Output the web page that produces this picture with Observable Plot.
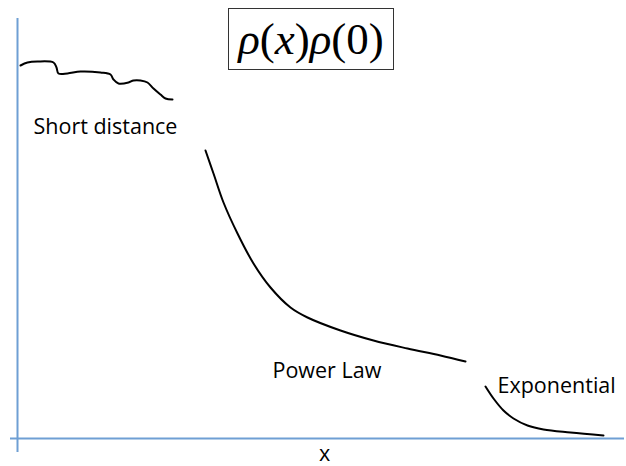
<!DOCTYPE html>
<html>
<head>
<meta charset="utf-8">
<script src="https://cdn.jsdelivr.net/npm/d3@7"></script>
<script src="https://cdn.jsdelivr.net/npm/@observablehq/plot@0.6"></script>
<style>
  html, body { margin: 0; padding: 0; background: #fff; }
  #wrap { position: relative; width: 626px; height: 466px; }
  #title {
    position: absolute; left: 228px; top: 8px; width: 166px; height: 62px;
    border: 1px solid #333; box-sizing: border-box;
    display: flex; align-items: center; justify-content: center;
    font-family: "Liberation Serif", "DejaVu Serif", serif; font-size: 45px; color: #000;
    line-height: 1;
  }
  #title i { font-style: italic; }
</style>
</head>
<body>
<div id="wrap">
  <div id="title"><span><i>ρ</i>(<i>x</i>)<i>ρ</i>(0)</span></div>
</div>
<script>
// Schematic correlation function regions (arbitrary units)
const shortX = [3, 10, 20, 36, 39, 41, 50, 63, 83, 93, 96, 101, 111, 116, 123, 130, 136, 143, 148, 155];
const shortY = [373, 376, 377, 376, 371, 365, 365, 367, 366, 364, 359, 355, 356, 358, 358, 356, 350, 344, 340, 339];

const powerX = [188, 196, 206, 220, 236, 253, 273, 290, 323, 356, 390, 423, 448];
const powerY = [288, 265, 236, 205, 175, 151, 131, 121, 108, 98, 90, 83, 77];

const expX = [468, 476, 486, 496, 510, 526, 553, 586];
const expY = [52, 40, 28, 20, 13, 9, 6, 3];

const labelText = ["Short distance", "Power Law", "Exponential"];
const labelX = [16, 255, 480];
const labelY = [311, 67, 52];

const axisLabel = "x";
const axisLabelX = 307;
const axisLabelY = -16;

const yAxisExtent = [-14, 420];
const xAxisExtent = [-7, 607];

const toPts = (xs, ys) => xs.map((x, i) => ({x, y: ys[i]}));
const shortPts = toPts(shortX, shortY);
const powerPts = toPts(powerX, powerY);
const expPts = toPts(expX, expY);
const labels = labelText.map((t, i) => ({t, x: labelX[i], y: labelY[i]}));

const axisColor = "#6f9fd4";
const font = "'Open Sans', sans-serif";

const chart = Plot.plot({
  width: 626,
  height: 466,
  margin: 0,
  x: {domain: [-17, 609], axis: null},
  y: {domain: [-28, 438], axis: null},
  style: {background: "#fff", fontFamily: font},
  marks: [
    Plot.ruleX([0], {y1: yAxisExtent[0], y2: yAxisExtent[1], stroke: axisColor, strokeWidth: 2}),
    Plot.ruleY([0], {x1: xAxisExtent[0], x2: xAxisExtent[1], stroke: axisColor, strokeWidth: 2}),
    Plot.line(shortPts, {x: "x", y: "y", curve: "catmull-rom", stroke: "#000", strokeWidth: 2}),
    Plot.line(powerPts, {x: "x", y: "y", curve: "catmull-rom", stroke: "#000", strokeWidth: 2}),
    Plot.line(expPts, {x: "x", y: "y", curve: "catmull-rom", stroke: "#000", strokeWidth: 2}),
    Plot.text(labels, {x: "x", y: "y", text: "t", textAnchor: "start", fontSize: 21.5, fill: "#000", fontFamily: font}),
    Plot.text([axisLabel], {x: axisLabelX, y: axisLabelY, text: d => d, fontSize: 21.5, fill: "#000", fontFamily: font})
  ]
});
document.getElementById("wrap").prepend(chart);
</script>
</body>
</html>
